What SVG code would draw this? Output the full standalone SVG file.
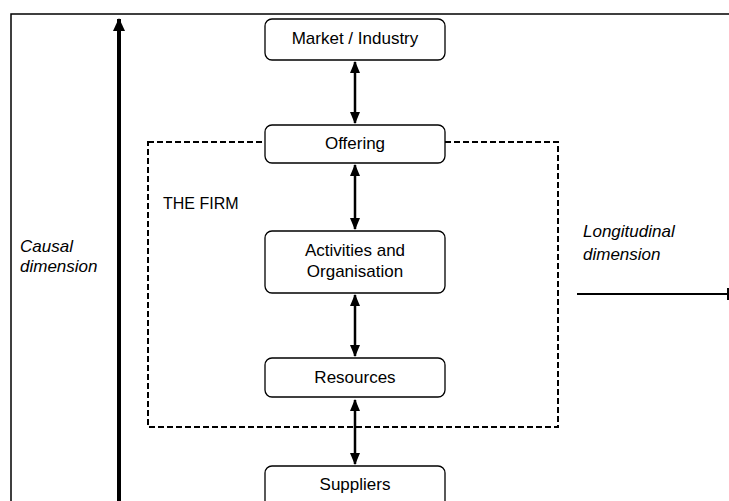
<svg xmlns="http://www.w3.org/2000/svg" width="729" height="501" viewBox="0 0 729 501">
  <style>
    .box { fill: #fff; stroke: #000; stroke-width: 1.3; }
    .lbl { font-family: "Liberation Sans", Arial, sans-serif; font-size: 17px; fill: #000; text-anchor: middle; }
    .it { font-family: "Liberation Sans", Arial, sans-serif; font-size: 17px; font-style: italic; fill: #000; }
    .link { stroke: #000; stroke-width: 2.5; fill: none; marker-start: url(#head); marker-end: url(#head); }
  </style>
  <defs>
    <marker id="head" viewBox="0 0 12 10" refX="11" refY="5" markerWidth="12" markerHeight="10" markerUnits="userSpaceOnUse" orient="auto-start-reverse">
      <path d="M0,0 L12,5 L0,10 Z" fill="#000"/>
    </marker>
    <marker id="bighead" viewBox="0 0 13 12" refX="12" refY="6" markerWidth="13" markerHeight="12" markerUnits="userSpaceOnUse" orient="auto">
      <path d="M0,0 L13,6 L0,12 Z" fill="#000"/>
    </marker>
  </defs>
  <rect width="729" height="501" fill="#fff"/>

  <!-- outer frame -->
  <path d="M11,501 V14 H729" fill="none" stroke="#000" stroke-width="1.5"/>

  <!-- firm boundary -->
  <rect x="148" y="142" width="410" height="285" fill="none" stroke="#000" stroke-width="2" stroke-dasharray="6,3"/>
  <text class="lbl" x="163" y="209" style="text-anchor:start;font-size:16px">THE FIRM</text>

  <g id="connectors">
    <line class="link" x1="355" y1="62" x2="355" y2="123"/>
    <line class="link" x1="355" y1="165" x2="355" y2="229"/>
    <line class="link" x1="355" y1="295" x2="355" y2="356"/>
    <line class="link" x1="355" y1="400" x2="355" y2="464"/>
    <!-- causal axis -->
    <line x1="119" y1="501" x2="119" y2="19" stroke="#000" stroke-width="4" marker-end="url(#bighead)"/>
    <!-- longitudinal axis -->
    <line x1="577" y1="294" x2="728" y2="294" stroke="#000" stroke-width="2"/>
    <line x1="728" y1="288" x2="728" y2="300" stroke="#000" stroke-width="2"/>
  </g>

  <g id="market">
    <rect class="box" x="265" y="19" width="180" height="41" rx="7"/>
    <text class="lbl" x="355" y="44">Market / Industry</text>
  </g>
  <g id="offering">
    <rect class="box" x="265" y="125" width="180" height="38" rx="7"/>
    <text class="lbl" x="355" y="149">Offering</text>
  </g>
  <g id="activities">
    <rect class="box" x="265" y="231" width="180" height="62" rx="7"/>
    <text class="lbl" x="355" y="256">Activities and</text>
    <text class="lbl" x="355" y="277">Organisation</text>
  </g>
  <g id="resources">
    <rect class="box" x="265" y="358" width="180" height="39" rx="7"/>
    <text class="lbl" x="355" y="383">Resources</text>
  </g>
  <g id="suppliers">
    <rect class="box" x="265" y="466" width="180" height="45" rx="7"/>
    <text class="lbl" x="355" y="490">Suppliers</text>
  </g>

  <text class="it" x="20" y="252">Causal</text>
  <text class="it" x="20" y="272">dimension</text>
  <text class="it" x="583" y="237">Longitudinal</text>
  <text class="it" x="583" y="260">dimension</text>
</svg>
